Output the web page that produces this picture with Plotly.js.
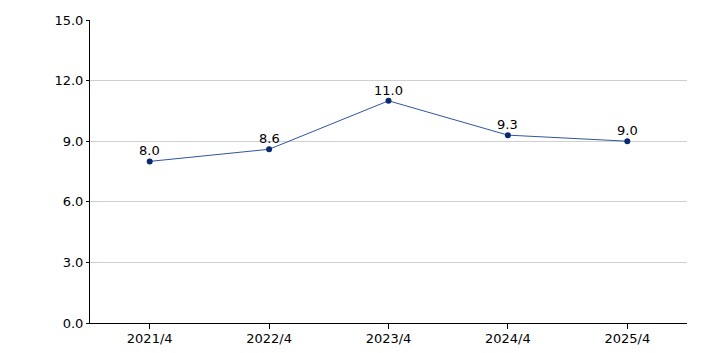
<!DOCTYPE html>
<html><head><meta charset="utf-8">
<script src="https://cdn.plot.ly/plotly-3.0.1.min.js"></script>
<style>body{margin:0;padding:0;}#chart{width:706px;height:353px;}</style>
</head><body><div id="chart"></div>
<script>
const categories = ["2021/4", "2022/4", "2023/4", "2024/4", "2025/4"];
const values = [8.0, 8.6, 11.0, 9.3, 9.0];
const yTicks = [0, 3, 6, 9, 12, 15];

const FONT = "DejaVu Sans, Verdana, sans-serif";
const trace = {
  x: categories, y: values, type: "scatter", mode: "lines+markers",
  line: {color: "#2f55a0", width: 1},
  marker: {color: "#0a2a70", size: 6},
  cliponaxis: false, hoverinfo: "none"
};
const annotations = categories.map((c, i) => ({
  x: c, y: values[i], xref: "x", yref: "y", text: values[i].toFixed(1),
  showarrow: false, yanchor: "bottom", xanchor: "center", yshift: 1,
  font: {family: FONT, size: 13, color: "#000"}
}));
const layout = {
  width: 706, height: 353,
  margin: {l: 90, r: 19, t: 20, b: 30},
  paper_bgcolor: "#fff", plot_bgcolor: "#fff",
  showlegend: false,
  font: {family: FONT, size: 13, color: "#000"},
  annotations: annotations,
  xaxis: {type: "category", range: [-0.5, 4.5], showline: true, linecolor: "#000", linewidth: 1,
    ticks: "outside", ticklen: 5, tickcolor: "#000", showgrid: false, zeroline: false, fixedrange: true,
    ticklabelstandoff: -2},
  yaxis: {range: [0, 15], tickvals: yTicks, ticktext: yTicks.map(v => v.toFixed(1)),
    showline: true, linecolor: "#000", linewidth: 1, ticks: "outside", ticklen: 3, tickcolor: "#000",
    showgrid: true, gridcolor: "#cfcfcf", gridwidth: 1, zeroline: false, fixedrange: true}
};
Plotly.newPlot("chart", [trace], layout, {staticPlot: true, displayModeBar: false});
</script></body></html>
